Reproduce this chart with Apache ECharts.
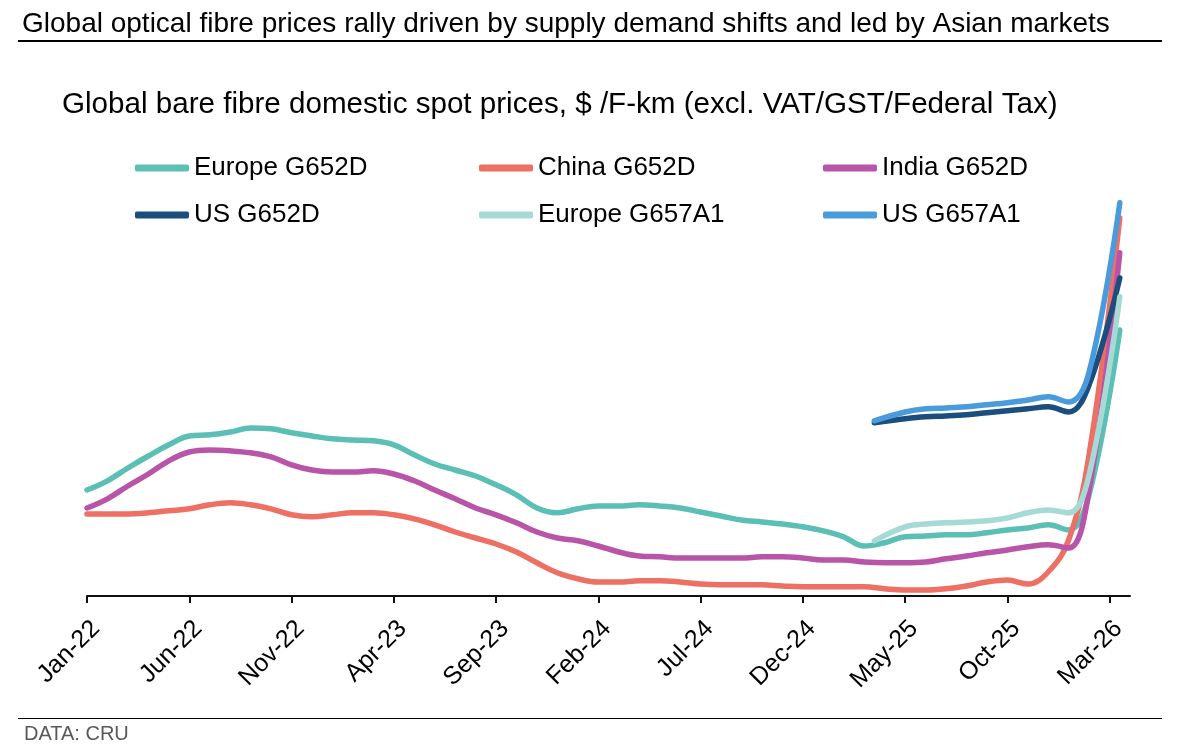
<!DOCTYPE html>
<html>
<head>
<meta charset="utf-8">
<script src="https://cdn.jsdelivr.net/npm/echarts@6/dist/echarts.min.js"></script>
<style>
html,body{margin:0;padding:0;background:#fff;}
#chart{width:1189px;height:752px;}
</style>
</head>
<body>
<div id="chart"></div>
<script>
// ---- data (values in $ /F-km) ----
const datesMain = [
  '2022-01','2022-02','2022-03','2022-04','2022-05','2022-06','2022-07','2022-08','2022-09','2022-10','2022-11','2022-12',
  '2023-01','2023-02','2023-03','2023-04','2023-05','2023-06','2023-07','2023-08','2023-09','2023-10','2023-11','2023-12',
  '2024-01','2024-02','2024-03','2024-04','2024-05','2024-06','2024-07','2024-08','2024-09','2024-10','2024-11','2024-12',
  '2025-01','2025-02','2025-03','2025-04','2025-05','2025-06','2025-07','2025-08','2025-09','2025-10','2025-11','2025-12',
  '2026-01','2026-02','2026-03-16'
];
const datesNew = [
  '2025-03-16','2025-05','2025-06','2025-07','2025-08','2025-09','2025-10','2025-11','2025-12',
  '2026-01','2026-02','2026-03-16'
];
const europeG652D = [2.65,2.88,3.20,3.50,3.78,4.00,4.03,4.10,4.20,4.18,
  4.08,4.00,3.93,3.90,3.88,3.78,3.53,3.30,3.15,3.00,
  2.78,2.53,2.20,2.08,2.18,2.25,2.25,2.28,2.25,2.20,
  2.10,2.00,1.90,1.85,1.80,1.73,1.63,1.48,1.25,1.33,
  1.48,1.50,1.53,1.53,1.58,1.65,1.70,1.78,1.65,2.53,6.65];
const chinaG652D = [2.05,2.05,2.05,2.08,2.13,2.18,2.28,2.33,2.28,2.18,
  2.03,1.98,2.03,2.08,2.08,2.03,1.93,1.78,1.60,1.45,
  1.30,1.10,0.83,0.58,0.43,0.35,0.35,0.38,0.38,0.35,
  0.30,0.28,0.28,0.28,0.25,0.23,0.23,0.23,0.23,0.18,
  0.15,0.15,0.18,0.25,0.35,0.40,0.30,0.60,1.40,3.53,9.45];
const indiaG652D = [2.20,2.43,2.75,3.05,3.38,3.60,3.65,3.63,3.58,3.48,
  3.28,3.15,3.10,3.10,3.13,3.05,2.88,2.65,2.43,2.20,
  2.03,1.83,1.60,1.45,1.38,1.25,1.10,1.00,0.98,0.95,
  0.95,0.95,0.95,0.98,0.98,0.95,0.90,0.90,0.85,0.83,
  0.83,0.85,0.93,1.00,1.08,1.15,1.23,1.28,1.20,2.65,8.58];
const usG652D = [4.33,4.43,4.48,4.50,4.53,4.58,4.63,4.68,4.73,4.60,5.28,7.95];
const europeG657A1 = [1.38,1.73,1.80,1.83,1.85,1.88,1.95,2.08,2.15,2.08,3.03,7.48];
const usG657A1 = [4.38,4.60,4.68,4.70,4.73,4.78,4.83,4.90,4.98,4.85,5.60,9.83];
const tickLabels = ['Jan-22','Jun-22','Nov-22','Apr-23','Sep-23','Feb-24','Jul-24','Dec-24','May-25','Oct-25','Mar-26'];

const MONTHS = ['Jan','Feb','Mar','Apr','May','Jun','Jul','Aug','Sep','Oct','Nov','Dec'];
function toMonth(s){ const p = s.split('-').map(Number); const d = p[2] || 1; return (p[0]-2022)*12 + (p[1]-1) + (d-1)/30; }
function labelToMonth(l){ const q = l.split('-'); return (2000 + Number(q[1]) - 2022)*12 + MONTHS.indexOf(q[0]); }
const tickMonths = tickLabels.map(labelToMonth);
function pairs(dates, vals){ return dates.map((d,i)=>[toMonth(d), vals[i]]); }

const FONT = '"Liberation Sans", Arial, sans-serif';
const colors = {
  'Europe G652D':'#5BBFB5', 'China G652D':'#EE6F63', 'India G652D':'#B955A8',
  'US G652D':'#1B4E7D', 'Europe G657A1':'#A5DBD4', 'US G657A1':'#4A9BDC'
};
function line(name, dates, vals){
  return { name, type:'line', data: pairs(dates, vals), smooth:0.4, showSymbol:false, symbol:'none',
    lineStyle:{ width:5.5, color:colors[name], cap:'round', join:'round' }, itemStyle:{ color:colors[name] },
    emphasis:{ disabled:true }, animation:false };
}
const legendBase = { orient:'vertical', top:155, padding:0, itemGap:21, icon:'roundRect', itemWidth:54, itemHeight:7,
  textStyle:{ fontSize:26, color:'#000', fontFamily:FONT }, selectedMode:false };

const chart = echarts.init(document.getElementById('chart'), null, {renderer:'canvas'});
chart.setOption({
  backgroundColor:'#fff',
  animation:false,
  title:[
    { text:'Global optical fibre prices rally driven by supply demand shifts and led by Asian markets', left:22, top:10, padding:0,
      textStyle:{ fontSize:28, fontWeight:'normal', color:'#000', fontFamily:FONT } },
    { text:'Global bare fibre domestic spot prices, $ /F-km (excl. VAT/GST/Federal Tax)', left:62, top:90, padding:0,
      textStyle:{ fontSize:29.6, fontWeight:'normal', color:'#000', fontFamily:FONT } },
    { text:'DATA: CRU', left:24, top:724, padding:0,
      textStyle:{ fontSize:20, fontWeight:'normal', color:'#595959', fontFamily:FONT } }
  ],
  graphic:[
    { type:'line', shape:{x1:18,y1:41,x2:1162,y2:41}, style:{stroke:'#000', lineWidth:2} },
    { type:'line', shape:{x1:18,y1:718.5,x2:1162,y2:718.5}, style:{stroke:'#000', lineWidth:1} }
  ],
  legend:[
    Object.assign({ left:135, data:['Europe G652D','US G652D'] }, legendBase),
    Object.assign({ left:479, data:['China G652D','Europe G657A1'] }, legendBase),
    Object.assign({ left:823, data:['India G652D','US G657A1'] }, legendBase)
  ],
  grid:{ left:87, right:59, top:196, bottom:156, containLabel:false },
  xAxis:{
    type:'value', min:0, max:51,
    splitLine:{show:false},
    axisLine:{ show:true, onZero:false, lineStyle:{ color:'#111', width:2 } },
    axisTick:{ show:true, length:7, lineStyle:{ color:'#111', width:2 }, customValues:tickMonths },
    axisLabel:{ show:true, rotate:45, margin:20, fontSize:25, color:'#000', fontFamily:FONT,
      verticalAlign:'top', customValues:tickMonths,
      formatter:function(v){ const i = tickMonths.indexOf(Math.round(v)); return i>=0 ? tickLabels[i] : ''; } }
  },
  yAxis:{ type:'value', min:0, max:10, show:false },
  series:[
    line('Europe G652D', datesMain, europeG652D),
    line('China G652D', datesMain, chinaG652D),
    line('India G652D', datesMain, indiaG652D),
    line('US G652D', datesNew, usG652D),
    line('Europe G657A1', datesNew, europeG657A1),
    line('US G657A1', datesNew, usG657A1)
  ]
});
</script>
</body>
</html>
